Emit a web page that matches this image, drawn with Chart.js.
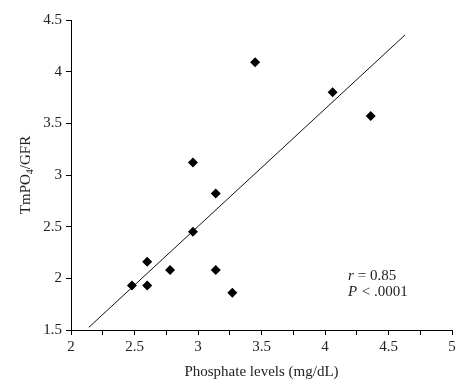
<!DOCTYPE html>
<html>
<head>
<meta charset="utf-8">
<script src="https://cdn.jsdelivr.net/npm/chart.js@4"></script>
<style>
  html, body { margin: 0; padding: 0; background: #fff; }
  #wrap { width: 473px; height: 389px; }
</style>
</head>
<body>
<div id="wrap"><canvas id="myChart" width="473" height="389"></canvas></div>
<script>
// phosphate levels (mg/dL) vs TmPO4/GFR
const phosphate = [2.48, 2.6, 2.6, 2.78, 2.96, 2.96, 3.14, 3.14, 3.27, 3.45, 4.06, 4.36];
const tmpGfr = [1.93, 2.16, 1.93, 2.08, 2.45, 3.12, 2.82, 2.08, 1.86, 4.09, 3.8, 3.57];

// fitted line end points
const fitX = [2.14, 4.63];
const fitY = [1.525, 4.355];

const xTicks = [2, 2.5, 3, 3.5, 4, 4.5, 5];
const yTicks = [1.5, 2, 2.5, 3, 3.5, 4, 4.5];

const FONT = "'Liberation Serif', 'DejaVu Serif', serif";

const points = phosphate.map((x, i) => ({ x, y: tmpGfr[i] }));
const fitLine = fitX.map((x, i) => ({ x, y: fitY[i] }));

const ctx = document.getElementById("myChart").getContext("2d");

new Chart(ctx, {
  type: "scatter",
  data: {
    datasets: [
      {
        label: "patients",
        data: points,
        pointStyle: "rectRot",
        pointRadius: 5,
        backgroundColor: "#000",
        borderColor: "#000",
        borderWidth: 0,
      },
      {
        label: "fit",
        type: "line",
        data: fitLine,
        borderColor: "#111",
        borderWidth: 1,
        pointRadius: 0,
        fill: false,
      },
    ],
  },
  options: {
    responsive: false,
    animation: false,
    layout: { padding: { top: 20, right: 21, left: 0, bottom: 0 } },
    scales: {
      x: {
        type: "linear",
        min: 2,
        max: 5,
        border: { color: "#000", width: 1 },
        grid: { display: true, drawOnChartArea: false, color: "#000", tickLength: 5 },
        ticks: {
          stepSize: 0.25,
          color: "#222",
          padding: 3,
          maxRotation: 0,
          font: { family: FONT, size: 15 },
          callback: (v) => (xTicks.includes(v) ? String(v) : ""),
        },
        title: {
          display: true,
          text: "Phosphate levels (mg/dL)",
          color: "#222",
          font: { family: FONT, size: 15 },
          padding: { top: 0, bottom: 8 },
        },
        afterFit: (s) => { s.height = 59; },
      },
      y: {
        type: "linear",
        min: 1.5,
        max: 4.5,
        border: { color: "#000", width: 1 },
        grid: { display: true, drawOnChartArea: false, color: "#000", tickLength: 5 },
        ticks: {
          stepSize: 0.5,
          color: "#222",
          padding: 4,
          font: { family: FONT, size: 15 },
          callback: (v) => (yTicks.includes(v) ? String(v) : ""),
        },
        afterFit: (s) => { s.width = 71; },
      },
    },
    plugins: {
      legend: { display: false },
      tooltip: { enabled: false },
    },
  },
  plugins: [
    {
      id: "annotations",
      afterDraw(chart) {
        const c = chart.ctx;
        c.save();
        c.fillStyle = "#222";
        c.textBaseline = "middle";
        // y axis title with subscript
        c.translate(26, 175);
        c.rotate(-Math.PI / 2);
        c.font = `15px ${FONT}`;
        const a = "TmPO", b = "4", d = "/GFR";
        const wa = c.measureText(a).width;
        c.font = `10px ${FONT}`;
        const wb = c.measureText(b).width;
        c.font = `15px ${FONT}`;
        const wd = c.measureText(d).width;
        let x0 = -(wa + wb + wd) / 2;
        c.textAlign = "left";
        c.fillText(a, x0, 0);
        c.font = `10px ${FONT}`;
        c.fillText(b, x0 + wa, 4);
        c.font = `15px ${FONT}`;
        c.fillText(d, x0 + wa + wb, 0);
        c.restore();

        // statistics
        c.save();
        c.fillStyle = "#222";
        c.textBaseline = "middle";
        c.textAlign = "left";
        c.font = `italic 15px ${FONT}`;
        c.fillText("r", 348, 276);
        c.fillText("P", 348, 292);
        c.font = `15px ${FONT}`;
        c.fillText(" = 0.85", 354, 276);
        c.fillText(" < .0001", 358, 292);
        c.restore();
      },
    },
  ],
});
</script>
</body>
</html>
